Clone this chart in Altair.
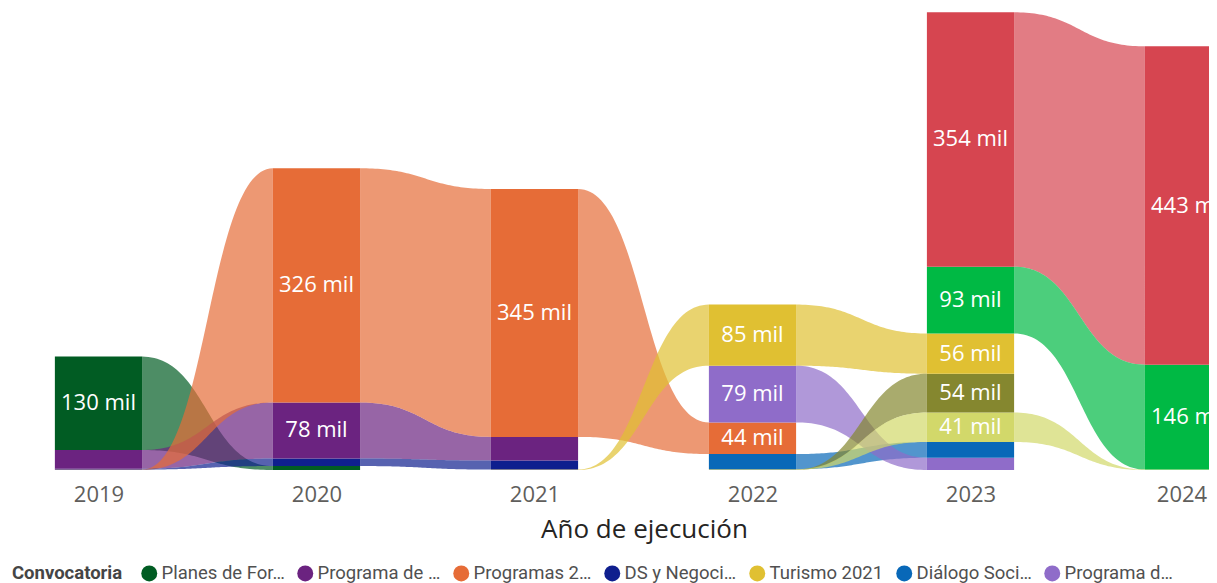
import altair as alt
import pandas as pd

# ---------------- data (values in thousands, "mil") ----------------
years = ["2019", "2020", "2021", "2022", "2023", "2024"]

series_names = [
    "Planes de For…", "Programa de …", "Programas 2…", "DS y Negoci…",
    "Turismo 2021", "Diálogo Soci…", "Programa d…",
    "Convocatoria 8", "Convocatoria 9", "Convocatoria 10", "Convocatoria 11",
]
series_colors = [
    "#015C23", "#6B2380", "#E66C37", "#0F1F8E",
    "#E0C032", "#0868B8", "#8F6CC9",
    "#D64550", "#00B944", "#85872F", "#D2D86A",
]

v_planes     = [130, 5.5, None, None, None, None]
v_prog_de    = [26, 78, 33, None, None, None]
v_programas2 = [0.6, 326, 345, 44, None, None]
v_ds         = [1.2, 10.5, 12.5, None, None, None]
v_turismo    = [None, None, 0.6, 85, 56, None]
v_dialogo    = [None, None, None, 21, 22, None]
v_prog_d     = [None, None, None, 79, 17, None]
v_conv8      = [None, None, None, None, 354, 443]
v_conv9      = [None, None, None, None, 93, 146]
v_conv10     = [None, None, None, 0.6, 54, None]
v_conv11     = [None, None, None, 0.6, 41, 0.6]

series_values = [v_planes, v_prog_de, v_programas2, v_ds, v_turismo, v_dialogo,
                 v_prog_d, v_conv8, v_conv9, v_conv10, v_conv11]
legend_shown = series_names[:7]

# ---------------- build tables ----------------
HALF = 0.2
bars = []
stack = {}
for i, yr in enumerate(years):
    present = [(series_values[k][i], k) for k in range(len(series_names))
               if series_values[k][i] is not None]
    present.sort(key=lambda p: p[0])
    base = 0.0
    for v, k in present:
        stack[(k, i)] = (base, base + v)
        bars.append({"serie": series_names[k], "x0": i - HALF, "x1": i + HALF,
                     "xc": i, "y0": base, "y1": base + v,
                     "ymid": base + v / 2, "value": v})
        base += v
bars_df = pd.DataFrame(bars)

ribbons = []
N = 60
for k in range(len(series_names)):
    for i in range(len(years) - 1):
        if (k, i) in stack and (k, i + 1) in stack:
            a0, a1 = stack[(k, i)]
            b0, b1 = stack[(k, i + 1)]
            xa, xb = i + HALF, i + 1 - HALF
            for j in range(N + 1):
                u = j / N
                fx = 1.5 * u * (1 - u) + u ** 3
                fy = 3 * u * u - 2 * u ** 3
                ribbons.append({"serie": series_names[k], "rid": f"{k}-{i}",
                                "x": xa + fx * (xb - xa),
                                "top": a1 + fy * (b1 - a1),
                                "bot": a0 + fy * (b0 - a0)})
rib_df = pd.DataFrame(ribbons)

# ---------------- encodings ----------------
label_expr = "[" + ",".join(f"'{y}'" for y in years) + "][datum.value]"
last_idx = len(years) - 1
xscale = alt.Scale(domain=[-0.415, 5.094], nice=False, zero=False)
yscale = alt.Scale(domain=[0, 643], nice=False)
xaxis = alt.Axis(values=list(range(len(years))), labelExpr=label_expr,
                 title="Año de ejecución", ticks=False, tickSize=0, domain=False,
                 grid=False, labelFontSize=22, labelColor="#605E5C",
                 labelFont="Open Sans", labelBaseline="alphabetic", labelPadding=31,
                 labelFlush=False, labelOverlap=False,
                 labelOffset={"condition": {"test": f"datum.value == {last_idx}",
                                            "value": -7}, "value": 0},
                 titleFont="Open Sans", titleFontSize=26, titleFontWeight="normal",
                 titleColor="#252423", titleX=636, titleY=67,
                 titleBaseline="alphabetic", titleAlign="center", titleAnchor="start")
legend = alt.Legend(values=legend_shown, orient="none", legendX=4, legendY=556,
                    direction="horizontal", title="Convocatoria", titleOrient="left",
                    titleFont="Roboto", titleFontSize=18.5, titleFontWeight="bold",
                    titleColor="#454545", titlePadding=17, titleBaseline="middle",
                    labelFont="Roboto", labelFontSize=18.5, labelColor="#505050",
                    symbolType="circle", symbolSize=256, symbolOpacity=1,
                    symbolStrokeWidth=0, labelOffset=3, columnPadding=11,
                    labelLimit=300)
color = alt.Color("serie:N", scale=alt.Scale(domain=series_names, range=series_colors),
                  legend=legend)

ribbon_layer = alt.Chart(rib_df).mark_area(opacity=0.7, interpolate="linear",
                                           clip=True).encode(
    x=alt.X("x:Q", scale=xscale, axis=xaxis),
    y=alt.Y("top:Q", scale=yscale, axis=None, stack=None),
    y2="bot:Q",
    color=color,
    detail="rid:N",
)

bar_layer = alt.Chart(bars_df).mark_bar(opacity=1, clip=True).encode(
    x=alt.X("x0:Q", scale=xscale, axis=xaxis),
    x2="x1:Q",
    y=alt.Y("y0:Q", scale=yscale, axis=None),
    y2="y1:Q",
    color=color,
)

text_layer = alt.Chart(bars_df).transform_filter(
    alt.datum.value >= 40
).transform_calculate(
    label="format(datum.value, '.0f') + ' mil'"
).mark_text(color="white", font="Open Sans", fontSize=22, align="center",
            baseline="middle", clip=True).encode(
    x=alt.X("xc:Q", scale=xscale, axis=xaxis),
    y=alt.Y("ymid:Q", scale=yscale, axis=None),
    text="label:N",
)

chart = alt.layer(ribbon_layer, bar_layer, text_layer).properties(
    width=1201, height=462, padding=0, background="white"
).configure_view(strokeWidth=0)

chart.save("out.html", embed_options={"renderer": "svg", "actions": False})
